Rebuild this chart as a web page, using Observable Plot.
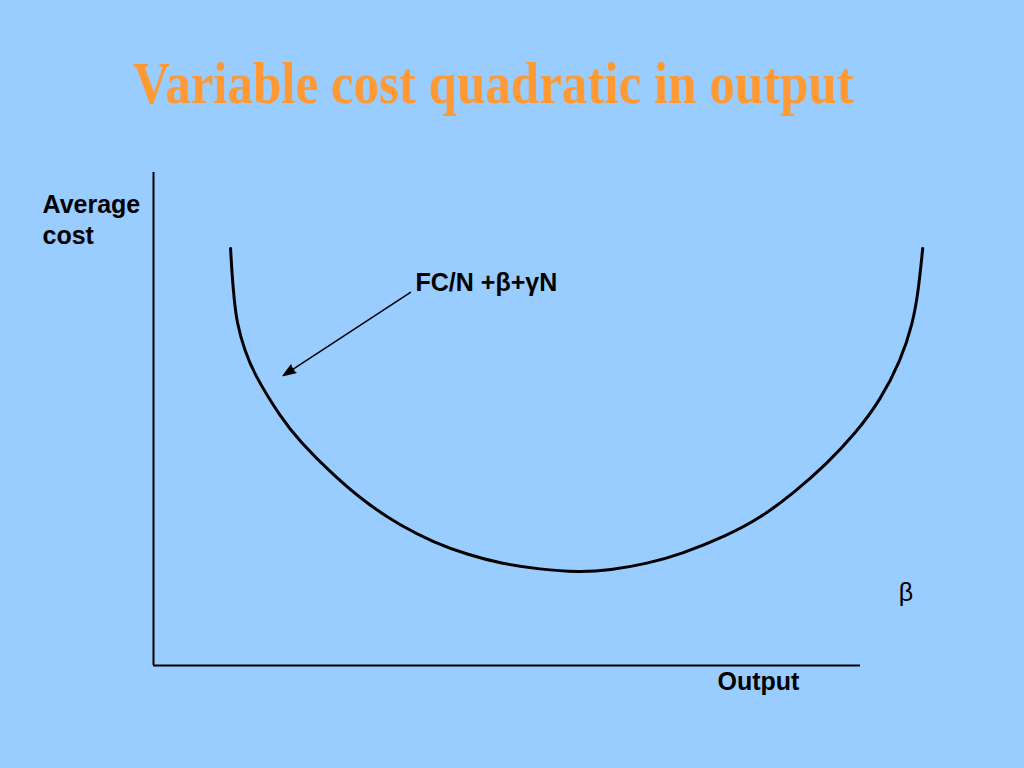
<!DOCTYPE html>
<html>
<head>
<meta charset="utf-8">
<script src="https://cdn.jsdelivr.net/npm/d3@7"></script>
<script src="https://cdn.jsdelivr.net/npm/@observablehq/plot@0.6"></script>
<style>
  html, body { margin: 0; padding: 0; }
  body { width: 1024px; height: 768px; background: #99CCFF; overflow: hidden; font-family: "Liberation Sans", Arial, sans-serif; }
  #header { position: relative; height: 140px; }
  #title {
    position: absolute; left: 133px; top: 61px; margin: 0;
    font-family: "Liberation Serif", "Times New Roman", serif; font-weight: bold;
    font-size: 51px; line-height: 1; color: #FF9933; white-space: nowrap;
    transform: scaleY(1.17); transform-origin: 0 42px;
  }
  #chart svg { display: block; }
</style>
</head>
<body>
<div id="header"><div id="title">Variable cost quadratic in output</div></div>
<div id="chart"></div>
<script>
// Output (x) and average cost (y), in axis units (axis length = 100)
const output = [10.9, 11.1, 11.4, 11.8, 12.9, 14.2, 18.0, 20.6, 25.5, 30.3, 34.9, 39.6, 44.4, 49.1, 54.7, 60.0, 64.6, 69.9, 74.5, 81.2, 85.9, 90.5, 95.3, 99.3, 102.8, 105.7, 107.4, 108.2, 108.8];
const avgCost = [84.6, 79.5, 74.4, 69.4, 63.9, 59.2, 50.3, 45.6, 38.5, 32.7, 28.4, 25.0, 22.5, 20.7, 19.5, 18.9, 19.3, 20.7, 22.5, 26.4, 30.0, 34.9, 41.0, 47.1, 53.8, 61.9, 69.4, 76.1, 84.6];

const labelText = ["Average\ncost", "FC/N +β+γN", "Output", "β"];

const curve = output.map((x, i) => ({x, y: avgCost[i]}));

const chart = Plot.plot({
  width: 1024,
  height: 628,
  marginLeft: 153,
  marginRight: 164,
  marginTop: 32,
  marginBottom: 103,
  x: {domain: [0, 100], axis: null},
  y: {domain: [0, 100], axis: null},
  style: {background: "transparent", fontFamily: "'Liberation Sans', Arial, sans-serif", color: "black"},
  marks: [
    Plot.ruleX([0], {y1: 0, y2: 100, stroke: "#000", strokeWidth: 2}),
    Plot.ruleY([0], {x1: 0, x2: 100, stroke: "#000", strokeWidth: 2}),
    Plot.line(curve, {x: "x", y: "y", curve: "basis", stroke: "#000", strokeWidth: 3}),
    Plot.arrow([{x1: 36.35, y1: 75.7, x2: 18.35, y2: 58.8}], {
      x1: "x1", y1: "y1", x2: "x2", y2: "y2",
      stroke: "#000", fill: "#000", strokeWidth: 1.5, headLength: 13, headAngle: 40
    }),
    Plot.text([labelText[0]], {x: -15.7, y: 85.4, text: d => d, textAnchor: "start", lineAnchor: "bottom", lineHeight: 1.24, fontSize: 25, fontWeight: "bold", fill: "#000"}),
    Plot.text([labelText[1]], {x: 37.06, y: 76.06, text: d => d, textAnchor: "start", lineAnchor: "bottom", fontSize: 25, fontWeight: "bold", fill: "#000"}),
    Plot.text([labelText[2]], {x: 79.77, y: -5.07, text: d => d, textAnchor: "start", lineAnchor: "bottom", fontSize: 25, fontWeight: "bold", fill: "#000"}),
    Plot.text([labelText[3]], {x: 105.4, y: 13.0, text: d => d, textAnchor: "start", lineAnchor: "bottom", fontSize: 25, fill: "#000"})
  ]
});
document.getElementById("chart").appendChild(chart);
</script>
</body>
</html>
